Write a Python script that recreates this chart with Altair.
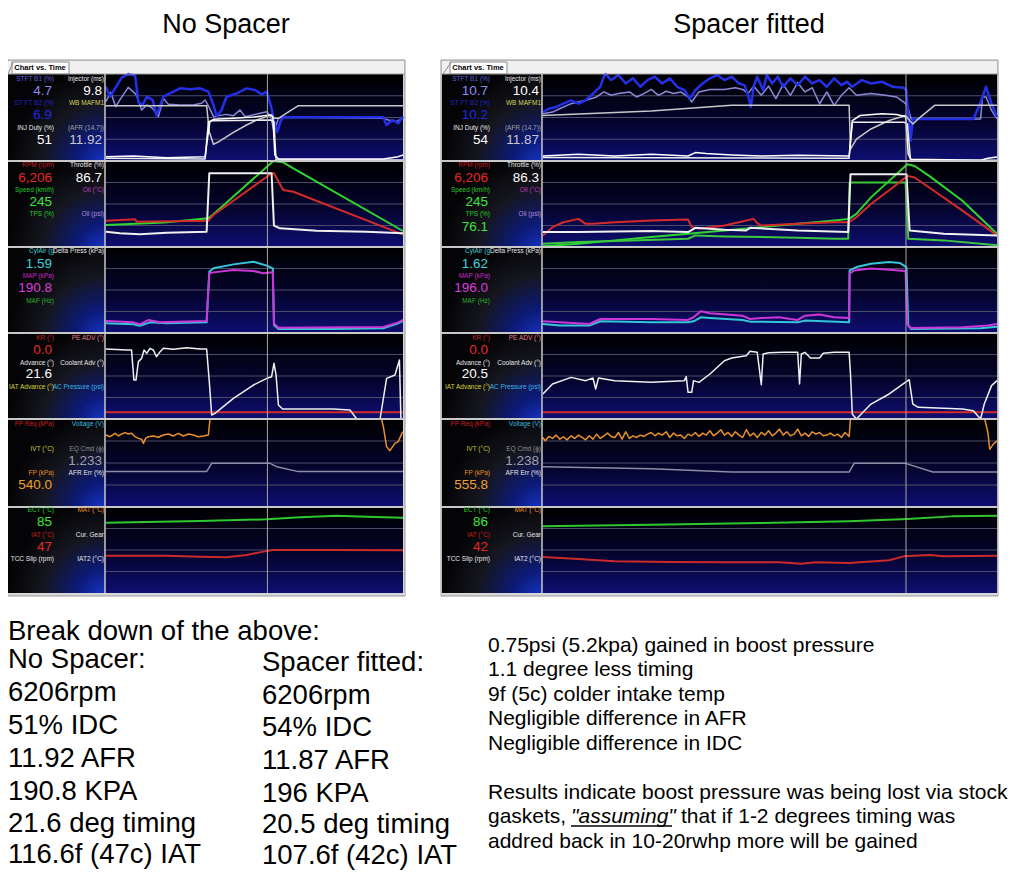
import altair as alt
import pandas as pd

# =====================================================================
# DATA  (time = % of logged window, value = % of the strip's range)
# ---------------------------------------------------------------------
# Left log: "No Spacer"
L_STFT1 = [(0.3,68.2),(1.9,78.9),(3.6,62.5),(5.3,72.0),(7.8,84.7),(10.4,76.6),(12.3,58.6),(14.0,64.4),(16.0,60.5),(17.9,51.0),(19.6,72.0),(21.3,65.1),(25.2,64.4),(29.6,64.4),(32.4,66.3),(33.6,70.1),(35.0,61.3),(36.4,51.0),(40.8,53.6),(43.1,52.1),(45.3,58.6),(47.0,51.0),(52.0,54.8),(54.3,56.7),(55.6,51.0),(56.7,33.7),(58.2,49.0),(59.8,50.2),(93.4,49.0),(95.1,47.1),(97.9,45.2),(100,49.8)]
L_STFT2 = [(0.3,85.4),(1.7,73.9),(3.4,83.5),(5.6,95.8),(7.8,100),(10.1,98.1),(11.2,67.8),(12.6,64.4),(14.0,73.9),(16.0,70.1),(17.3,52.5),(19.6,73.9),(21.8,77.8),(25.2,83.5),(28.5,82.4),(31.9,83.5),(34.7,79.7),(36.4,64.4),(37.5,51.0),(39.1,58.6),(40.8,73.9),(44.2,77.8),(47.5,83.5),(50.3,81.6),(52.6,76.6),(54.3,79.7),(55.9,60.5),(56.7,45.2),(57.8,33.7),(58.9,45.2),(59.8,50.2),(93.4,50.2),(94.5,41.4),(96.5,47.1),(98.4,43.3),(100,51.0)]
L_AFR = [(0.3,63.6),(34.1,63.6),(35.0,33.7),(36.4,19.2),(38.6,23.0),(43.1,33.0),(47.5,41.4),(50.9,47.1),(54.3,51.0),(55.9,52.9),(56.7,49.0),(58.2,49.0),(62.1,57.5),(64.9,63.6),(100,63.6)]
L_IDC = [(0.3,5.0),(9.5,5.7),(20.7,3.8),(33.6,5.0),(34.4,26.1),(35.2,45.2),(36.4,47.9),(43.1,49.0),(49.8,50.6),(55.4,52.9),(56.3,51.0),(57.0,6.9),(58.2,2.3),(93.4,2.3),(98.4,5.0),(100,6.9)]
L_INJ = [(0.3,3.1),(33.6,2.3),(34.7,45.2),(36.4,46.4),(55.4,47.1),(56.7,45.2),(57.4,1.1),(100,1.1)]
L_SPEED = [(0.3,25.6),(20.0,28.5),(34.7,33.3),(36.4,38.0),(56.5,100),(59.8,98.4),(63.2,91.5),(100,18.6)]
L_RPM = [(0.3,30.6),(10.1,32.2),(10.6,29.5),(34.7,30.6),(36.4,37.2),(55.9,85.7),(56.7,85.7),(59.8,66.3),(63.2,64.3),(99.0,15.9),(100,14.7)]
L_THROTTLE = [(0.3,17.8),(5.0,15.9),(11.7,14.7),(20.7,16.7),(34.1,17.8),(35.0,85.7),(55.9,85.7),(56.7,24.8),(58.7,21.7),(71.0,19.0),(87.8,17.8),(100,15.9)]
L_CYLAIR = [(0.3,11.2),(9.5,10.1),(11.7,8.5),(15.1,12.4),(20.7,11.2),(34.1,12.4),(35.0,71.3),(36.4,75.2),(43.1,79.8),(49.8,82.9),(54.3,78.3),(56.3,75.2),(56.7,9.3),(58.2,4.7),(76.6,4.7),(93.4,5.4),(98.4,11.2),(100,14.0)]
L_MAP = [(0.3,14.0),(9.5,12.4),(11.7,10.1),(14.5,15.1),(18.5,12.4),(34.1,14.0),(35.0,69.4),(36.4,70.5),(43.1,73.3),(49.8,72.1),(53.1,69.4),(56.3,70.5),(56.7,11.2),(58.2,6.2),(93.4,7.0),(98.4,12.4),(100,15.1)]
L_ADV_A = [(0.3,81.4),(7.3,80.2),(8.9,80.2),(9.7,45.3),(10.4,45.3),(11.2,66.7),(12.3,70.5),(13.1,80.2),(14.0,76.4),(15.1,82.2),(16.2,80.2),(17.3,72.5),(18.5,78.3),(19.6,82.2),(22.9,81.0),(27.4,82.9),(31.9,81.4),(34.1,81.4),(35.0,43.4),(35.8,4.7),(36.9,6.6),(43.1,24.0),(49.8,39.5),(54.3,47.3),(55.9,49.2),(56.7,64.7),(57.4,51.2),(58.2,16.3),(59.6,11.6),(76.6,11.6),(82.2,10.5),(84.5,0)]
L_ADV_B = [(92.3,0),(94.5,47.3),(97.3,51.2),(98.8,68.6),(99.3,0)]
L_KR = [(0,7.8),(100,7.8)]
L_FP_A = [(0.3,81.8),(1.7,79.9),(3.4,83.7),(4.5,80.7),(5.6,83.0),(6.7,84.5),(7.8,83.0),(8.9,83.7),(10.1,79.9),(11.2,78.0),(12.3,76.9),(12.9,72.3),(13.6,78.0),(14.5,79.9),(16.2,80.7),(17.9,79.2),(19.6,81.8),(21.3,83.0),(22.9,80.7),(24.6,83.7),(26.3,80.7),(28.0,83.0),(29.6,81.8),(31.3,79.9),(33.0,80.7),(34.7,81.8),(35.2,98.9),(35.5,100)]
L_FP_B = [(92.8,100),(93.4,91.3),(94.5,68.6),(95.6,64.0),(97.3,72.3),(98.4,74.2),(99.6,83.7),(100,85.6)]
L_EQ = [(0.3,40.2),(34.1,40.2),(35.8,49.6),(55.4,49.6),(57.6,45.8),(64.9,40.2),(100,40.2)]
L_ECT = [(0.3,81.8),(31.9,83.7),(54.3,85.7),(65.4,88.0),(77.7,89.9),(87.8,88.8),(100,87.6)]
L_IAT = [(0.3,43.4),(20.7,43.4),(31.9,42.2),(40.8,41.5),(47.5,44.2),(53.1,48.1),(56.5,50.0),(76.6,50.0),(100,49.6)]

# Right log: "Spacer fitted"
R_STFT1 = [(0.2,54.3),(2.3,56.2),(3.9,60.1),(6.4,65.9),(9.6,69.8),(12.0,73.6),(13.6,79.5),(15.2,75.6),(16.8,77.5),(19.2,79.4),(20.8,73.6),(22.4,77.5),(24.0,82.3),(25.6,75.5),(27.3,80.2),(28.9,77.5),(30.5,79.4),(32.1,73.6),(32.9,67.8),(34.5,79.4),(36.9,82.3),(40.1,82.3),(42.5,84.2),(44.1,82.3),(45.3,77.5),(46.5,86.1),(48.2,75.5),(49.8,86.1),(51.4,71.6),(53.0,88.1),(54.6,75.5),(56.2,90.0),(57.8,79.4),(59.4,84.2),(61.0,65.8),(62.6,79.4),(64.2,63.9),(65.8,75.5),(67.5,84.2),(69.1,75.5),(72.3,77.5),(75.5,75.5),(77.9,73.6),(79.5,67.8),(80.3,64.0),(81.1,48.4),(82.7,48.4),(96.4,48.4),(96.8,73.6),(97.6,73.6),(98.8,58.1),(100,48.4)]
R_STFT2 = [(0.2,56.2),(1.5,60.1),(3.1,62.0),(4.7,65.9),(6.4,69.8),(8.0,65.9),(9.6,69.8),(11.2,77.5),(12.8,85.3),(13.6,96.9),(14.0,100),(15.2,93.0),(16.8,98.8),(18.4,89.1),(20.0,95.0),(21.6,85.3),(23.2,93.0),(24.8,96.9),(26.4,89.1),(28.1,95.0),(29.7,85.3),(31.3,81.4),(32.5,71.7),(33.7,81.4),(35.3,89.1),(36.9,95.0),(38.5,98.8),(40.1,93.0),(41.7,96.9),(43.3,89.1),(44.5,87.2),(45.3,75.6),(45.9,62.0),(46.5,85.3),(47.3,96.9),(48.6,81.4),(49.4,98.8),(50.6,89.1),(51.8,96.9),(53.0,85.3),(54.6,95.0),(56.2,87.2),(57.8,96.9),(59.4,89.1),(61.0,93.0),(62.6,85.3),(64.2,95.0),(65.8,87.2),(67.0,91.1),(68.2,85.3),(70.3,93.0),(72.3,89.1),(74.7,91.1),(77.1,85.3),(79.5,84.1),(80.1,81.4),(80.3,65.9),(81.0,23.3),(81.5,48.4),(82.7,48.4),(94.8,48.4),(96.0,62.0),(97.6,85.3),(98.8,65.9),(100,50.4)]
R_AFR = [(0.2,52.3),(24.0,57.4),(41.7,64.0),(67.5,64.0),(67.8,13.6),(69.1,25.2),(72.3,36.8),(76.3,46.5),(79.9,52.3),(80.8,46.5),(81.5,42.6),(82.7,48.4),(86.3,64.0),(100,64.0)]
R_IDC = [(0.2,5.8),(8.0,7.8),(16.0,5.8),(24.0,7.8),(32.1,5.8),(33.7,9.7),(36.1,8.5),(41.7,7.0),(48.2,5.8),(56.2,6.6),(67.5,5.8),(68.2,46.5),(69.9,52.3),(74.7,54.3),(77.9,53.5),(79.9,51.2),(80.5,7.8),(81.1,1.9),(96.4,0.8),(98.0,3.1),(100,4.7)]
R_INJ = [(0.2,3.9),(67.5,3.1),(68.2,44.6),(79.5,44.6),(80.3,42.6),(81.0,0.8),(100,0.8)]
R_RPM = [(0.2,13.5),(2.3,23.1),(4.7,28.8),(8.0,32.7),(9.6,26.9),(11.2,26.9),(16.0,28.8),(24.0,30.8),(32.1,31.9),(32.9,23.1),(34.5,21.2),(40.1,25.0),(43.3,28.8),(46.5,32.7),(47.3,27.7),(48.2,25.0),(56.2,26.9),(64.2,28.8),(67.5,28.8),(69.1,34.6),(72.3,50.0),(77.1,69.2),(80.3,82.7),(81.9,80.8),(85.1,69.2),(92.4,42.3),(100,13.5)]
R_SPEED = [(0.2,0.8),(8.0,3.8),(16.0,7.7),(24.0,11.5),(32.1,15.4),(40.1,19.2),(48.2,23.1),(56.2,26.9),(64.2,30.8),(67.5,32.7),(69.1,38.5),(72.3,57.7),(76.3,76.9),(80.3,96.2),(81.9,94.2),(85.1,82.7),(92.4,53.8),(100,15.4)]
R_TPS = [(0.2,3.8),(8.0,5.8),(16.0,6.9),(32.1,9.6),(33.7,13.5),(40.1,12.3),(56.2,10.8),(64.2,9.6),(67.3,9.6),(67.6,75.0),(79.9,75.0),(80.5,9.6),(88.3,7.7),(100,1.9)]
R_THROTTLE = [(0.2,17.3),(8.0,17.3),(24.0,18.5),(32.1,17.3),(33.7,22.3),(40.1,20.0),(44.9,19.2),(45.7,22.3),(56.2,19.2),(67.3,17.3),(67.8,84.6),(80.1,84.6),(80.8,19.2),(88.3,15.4),(100,13.5)]
R_MAP = [(0.2,13.6),(3.9,12.5),(10.4,10.5),(12.8,16.3),(24.0,16.3),(32.1,15.2),(33.3,18.3),(34.9,25.3),(36.9,23.0),(44.1,20.2),(45.7,16.3),(48.2,17.5),(52.2,18.3),(54.6,16.3),(56.2,15.2),(57.8,20.2),(61.0,21.4),(64.2,18.3),(67.5,17.5),(67.6,68.9),(68.6,72.8),(72.3,75.0),(76.3,73.5),(79.9,72.0),(80.3,10.5),(81.1,5.8),(92.4,6.6),(98.0,8.6),(100,10.5)]
R_CYLAIR = [(0.2,10.5),(3.9,8.6),(10.4,8.6),(12.8,13.6),(24.0,12.5),(32.1,12.5),(33.3,13.6),(34.9,18.3),(36.9,17.5),(44.1,15.2),(45.7,13.2),(56.2,12.5),(57.8,14.4),(67.5,12.5),(67.6,72.8),(69.1,76.7),(72.3,80.5),(76.3,82.5),(78.7,81.3),(80.1,76.7),(80.5,8.6),(81.1,4.7),(96.4,5.4),(100,7.4)]
R_ADVANCE = [(0.2,29.1),(2.3,40.7),(6.4,48.4),(9.6,44.6),(11.2,47.7),(11.8,34.9),(12.4,47.7),(16.0,44.6),(24.0,42.6),(31.3,44.6),(31.7,49.2),(32.1,31.0),(32.9,31.0),(33.3,44.6),(34.5,42.6),(36.9,52.3),(40.1,67.8),(41.7,70.9),(44.9,73.6),(45.7,78.7),(47.3,77.5),(48.2,39.9),(48.6,75.6),(49.8,77.1),(53.0,77.5),(56.2,77.5),(56.6,40.7),(57.0,75.6),(57.8,77.5),(59.0,70.9),(61.0,70.9),(61.8,76.4),(64.2,77.5),(67.5,77.5),(67.8,52.3),(68.2,5.8),(69.1,0),(72.3,17.4),(76.3,29.1),(80.7,45.7),(81.5,17.4),(82.7,13.6),(92.4,11.6),(94.8,9.7),(96.4,0),(97.2,17.4),(98.8,38.8),(100,44.6)]
R_KR = [(0,7.8),(100,7.8)]
R_FP_T = [0.2,0.7,1.5,2.3,3.1,3.9,4.7,5.5,6.4,7.2,8.0,8.8,9.6,10.4,11.2,12.0,12.8,13.6,14.4,15.2,16.0,16.8,17.6,18.4,19.2,20.0,20.8,21.6,22.4,23.2,24.0,24.8,25.6,26.4,27.3,28.1,28.9,29.7,30.5,31.3,32.1,32.9,33.7,34.5,35.3,36.1,36.9,37.7,38.5,39.3,40.1,40.9,41.7,42.5,43.3,44.1,44.9,45.7,46.5,47.3,48.2,49.0,49.8,50.6,51.4,52.2,53.0,53.8,54.6,55.4,56.2,57.0,57.8,58.6,59.4,60.2,61.0,61.8,62.6,63.4,64.2,65.0,65.8,66.6,67.5,67.8]
R_FP_V = [79.0,75.2,80.2,77.9,81.7,77.1,79.8,76.3,80.9,77.9,81.7,79.0,76.3,80.9,77.1,82.8,77.9,80.9,84.0,80.2,79.0,84.7,77.1,85.5,77.9,80.9,79.0,81.7,80.2,82.8,84.7,80.9,84.0,81.7,85.5,79.0,84.0,80.9,81.7,77.9,82.8,80.9,84.7,80.2,84.0,81.7,86.6,80.9,84.0,87.8,81.7,84.7,80.2,85.5,81.7,79.0,87.8,80.9,84.0,79.0,84.7,81.7,86.6,80.9,84.0,88.5,81.7,85.5,80.9,82.8,88.5,80.9,84.0,80.2,85.5,82.8,84.7,80.9,81.7,84.0,80.9,82.8,79.0,84.7,80.2,100]
R_FP_B = [(97.3,100),(98.0,84.7),(98.4,65.6),(99.2,71.4),(100,75.2)]
R_EQ = [(0.2,45.8),(24.0,43.5),(41.7,39.7),(67.5,39.7),(68.6,49.6),(79.9,49.6),(85.9,39.7),(100,39.7)]
R_ECT = [(0.2,77.5),(24.0,79.5),(48.2,81.4),(67.5,83.3),(80.3,86.0),(90.0,89.1),(100,89.9)]
R_IAT = [(0.2,41.9),(8.0,39.5),(16.0,36.8),(28.1,36.0),(40.1,35.7),(52.2,35.7),(57.0,34.1),(60.2,35.7),(67.5,34.9),(76.3,38.0),(79.5,42.6),(85.1,44.2),(88.3,42.6),(100,43.4)]

GRID_LEVELS = [25, 50, 75]

# channel labels / readouts
LABEL_TEXTS = ['STFT B1 (%)', 'Injector (ms)', 'ST FT B2 (%)', 'WB MAFM1', 'INJ Duty (%)', '(AFR (14.7))',
               'RPM (rpm)', 'Throttle (%)', 'Speed (km/h)', 'Oil (°C)', 'TPS (%)', 'Oil (psi)',
               'CylAir (g', 'Delta Press (kPa)', 'MAP (kPa)', 'MAF (Hz)',
               'KR (°)', 'PE ADV (°)', 'Advance (°)', 'Coolant Adv (°)', 'IAT Advance (°)', 'AC Pressure (psi)',
               'FP Req (kPa)', 'Voltage (V)', 'IVT (°C)', 'EQ Cmd (ϕ)', 'FP (kPa)', 'AFR Err (%)',
               'ECT (°C)', 'MAT (°C)', 'IAT (°C)', 'Cur. Gear', 'TCC Slip (rpm)', 'IAT2 (°C)']
LABEL_COLOURS = ['#5a5ad2', '#e6e6e6', '#2323c0', '#d2d264', '#e6e6e6', '#a0a0a0',
                 '#c81e1e', '#e6e6e6', '#28c828', '#b43cc8', '#28c828', '#b48cdc',
                 '#3cc8d2', '#e6e6e6', '#c828c8', '#28b428',
                 '#c81e1e', '#e6788c', '#e6e6e6', '#e6e6e6', '#d2d23c', '#3cb4e6',
                 '#c81e1e', '#3cb4dc', '#c8c83c', '#8c8c96', '#e68c28', '#e6e6e6',
                 '#28c828', '#e68c28', '#c81e1e', '#e6e6e6', '#e6e6e6', '#e6e6e6']
VALUES_NO_SPACER = ['4.7', '9.8', '6.9', '51', '11.92', '6,206', '86.7', '245', '', '1.59', '190.8',
                    '0.0', '21.6', '1.233', '540.0', '85', '47']
VALUES_SPACER = ['10.7', '10.4', '10.2', '54', '11.87', '6,206', '86.3', '245', '76.1', '1.62', '196.0',
                 '0.0', '20.5', '1.238', '555.8', '86', '42']
VALUE_COLOURS = ['#8c8cf0', '#ffffff', '#2028e0', '#ffffff', '#c8c8d2', '#e62828', '#ffffff', '#3ce63c',
                 '#3ce63c', '#3cd2dc', '#dc3cdc', '#e62828', '#ffffff', '#a0a0aa', '#f0a032', '#3ce63c', '#e62828']

TITLES = ['No Spacer', 'Spacer fitted']
BREAKDOWN_HEAD = 'Break down of the above:'
NO_SPACER_LINES = ['No Spacer:', '6206rpm', '51% IDC', '11.92 AFR', '190.8 KPA', '21.6 deg timing', '116.6f (47c) IAT']
SPACER_LINES = ['Spacer fitted:', '6206rpm', '54% IDC', '11.87 AFR', '196 KPA', '20.5 deg timing', '107.6f (42c) IAT']
SUMMARY_LINES = ['0.75psi (5.2kpa) gained in boost pressure', '1.1 degree less timing',
                 '9f (5c) colder intake temp', 'Negligible difference in AFR', 'Negligible difference in IDC']
CONCLUSION_1 = 'Results indicate boost pressure was being lost via stock'
CONCLUSION_2 = ['gaskets,', '"assuming"', 'that if 1-2 degrees timing was']
CONCLUSION_3 = 'addred back in 10-20rwhp more will be gained'

# =====================================================================
# STYLE / LAYOUT
STYLE = {
    'STFT1': ('#8a8ad6', 1.5), 'STFT2': ('#2430e8', 2.5), 'AFR': ('#c8c8c8', 1.5),
    'INJ': ('#eeeeee', 1.5), 'IDC': ('#ffffff', 1.5),
    'SPEED': ('#2ed62e', 2), 'TPS': ('#3cc83c', 2), 'RPM': ('#d62a2a', 2), 'THROTTLE': ('#f0f0f0', 2),
    'CYLAIR': ('#34c6d8', 2), 'MAP': ('#cc36d6', 2),
    'ADVANCE': ('#f0f0f0', 1.5), 'KR': ('#d62a2a', 2),
    'FP': ('#e8902a', 1.5), 'EQ': ('#8c8ca6', 1.5),
    'ECT': ('#2ec82e', 2), 'IAT': ('#cc2a2a', 2),
}

PANEL_SERIES = {
    'L': [
        [('STFT1', [L_STFT1]), ('STFT2', [L_STFT2]), ('AFR', [L_AFR]), ('INJ', [L_INJ]), ('IDC', [L_IDC])],
        [('SPEED', [L_SPEED]), ('RPM', [L_RPM]), ('THROTTLE', [L_THROTTLE])],
        [('CYLAIR', [L_CYLAIR]), ('MAP', [L_MAP])],
        [('KR', [L_KR]), ('ADVANCE', [L_ADV_A, L_ADV_B])],
        [('EQ', [L_EQ]), ('FP', [L_FP_A, L_FP_B])],
        [('ECT', [L_ECT]), ('IAT', [L_IAT])],
    ],
    'R': [
        [('STFT1', [R_STFT1]), ('STFT2', [R_STFT2]), ('AFR', [R_AFR]), ('INJ', [R_INJ]), ('IDC', [R_IDC])],
        [('SPEED', [R_SPEED]), ('TPS', [R_TPS]), ('RPM', [R_RPM]), ('THROTTLE', [R_THROTTLE])],
        [('CYLAIR', [R_CYLAIR]), ('MAP', [R_MAP])],
        [('KR', [R_KR]), ('ADVANCE', [R_ADVANCE])],
        [('EQ', [R_EQ]), ('FP', [list(zip(R_FP_T, R_FP_V)), R_FP_B])],
        [('ECT', [R_ECT]), ('IAT', [R_IAT])],
    ],
}

W, H = 1008, 864
OX, OY = 8, 8                      # page margin
STRIP_EDGES = [74, 161, 247, 333, 419, 507, 593]
PANEL_GEOM = {
    'L': {'frame': (3, 405), 'plot': (105, 403), 'cursor': 54.5, 'values': VALUES_NO_SPACER, 'colL': 54},
    'R': {'frame': (441, 998), 'plot': (542, 997), 'cursor': 80.0, 'values': VALUES_SPACER, 'colL': 490},
}
LABEL_SLOTS = [('L', 79), ('R', 79), ('L', 103), ('R', 103), ('L', 128), ('R', 128),
               ('L', 165), ('R', 165), ('L', 190), ('R', 190), ('L', 214), ('R', 214),
               ('L', 251), ('R', 251), ('L', 276), ('L', 301),
               ('L', 338), ('R', 338), ('L', 363), ('R', 363), ('L', 387), ('R', 387),
               ('L', 424), ('R', 424), ('L', 449), ('R', 449), ('L', 473), ('R', 473),
               ('L', 510), ('R', 510), ('L', 535), ('R', 535), ('L', 559), ('R', 559)]
VALUE_SLOTS = [('L', 91), ('R', 91), ('L', 115), ('L', 140), ('R', 140), ('L', 178), ('R', 178),
               ('L', 202), ('L', 227), ('L', 264), ('L', 288), ('L', 350), ('L', 374), ('R', 461),
               ('L', 485), ('L', 522), ('L', 547)]

PLOT_GRAD = {"gradient": "linear", "x1": 0, "y1": 0, "x2": 0, "y2": 1,
             "stops": [{"offset": 0, "color": "#000000"}, {"offset": 0.55, "color": "#04042e"},
                       {"offset": 1, "color": "#0e0e72"}]}
LABEL_GRAD = {"gradient": "radial", "x1": 1, "y1": 1, "r1": 0, "x2": 1, "y2": 1, "r2": 1,
              "stops": [{"offset": 0, "color": "#1838d0"}, {"offset": 0.3, "color": "#0c1a78"},
                        {"offset": 0.65, "color": "#15161e"}, {"offset": 1, "color": "#040406"}]}

FONT = 'Liberation Sans'
ONE = pd.DataFrame({'k': [0]})


def X(x):
    return max(x - OX, 0)


def Y(y):
    return y - OY


def rect_px(x0, x1, y0, y1, **kw):
    return alt.Chart(ONE).mark_rect(**kw).encode(
        x=alt.value(X(x0)), x2=alt.value(X(x1)), y=alt.value(Y(y0)), y2=alt.value(Y(y1)))


def rule_px(x0, y0, x1, y1, **kw):
    return alt.Chart(ONE).mark_rule(**kw).encode(
        x=alt.value(X(x0)), x2=alt.value(X(x1)), y=alt.value(Y(y0)), y2=alt.value(Y(y1)))


def strip_chart(panel, k):
    g = PANEL_GEOM[panel]
    top, bot = STRIP_EDGES[k], STRIP_EDGES[k + 1]
    sx = alt.Scale(domain=[0, 100], range=[X(g['plot'][0]), X(g['plot'][1])], nice=False, zero=False)
    sy = alt.Scale(domain=[0, 100], range=[Y(bot), Y(top)], nice=False, zero=False)
    bg = alt.Chart(ONE).mark_rect(fill=PLOT_GRAD).encode(
        x=alt.XDatum(0, type='quantitative', scale=sx, axis=None), x2=alt.X2Datum(100),
        y=alt.YDatum(0, type='quantitative', scale=sy, axis=None), y2=alt.Y2Datum(100))
    grid = alt.Chart(pd.DataFrame({'g': GRID_LEVELS})).mark_rule(color='#4c4c6a', strokeWidth=1).encode(
        y=alt.Y('g:Q', scale=sy, axis=None),
        x=alt.XDatum(0, type='quantitative', scale=sx, axis=None), x2=alt.X2Datum(100))
    layers = [bg, grid]
    for name, segs in PANEL_SERIES[panel][k]:
        rows = []
        for si, seg in enumerate(segs):
            for i, (t, v) in enumerate(seg):
                rows.append({'t': t, 'v': v, 'seg': si, 'i': i})
        colour, width = STYLE[name]
        layers.append(alt.Chart(pd.DataFrame(rows)).mark_line(
            color=colour, strokeWidth=width, strokeJoin='round').encode(
            x=alt.X('t:Q', scale=sx, axis=None), y=alt.Y('v:Q', scale=sy, axis=None),
            detail='seg:N', order='i:Q'))
    cursor = alt.Chart(ONE).mark_rule(color='#a8a8a8', strokeWidth=1).encode(
        x=alt.XDatum(g['cursor'], type='quantitative', scale=sx, axis=None),
        y=alt.YDatum(0, type='quantitative', scale=sy, axis=None), y2=alt.Y2Datum(100))
    layers.append(cursor)
    return alt.layer(*layers)


def text_layer(rows, align, **kw):
    df = pd.DataFrame(rows, columns=['x', 'y', 'text', 'color', 'size'])
    return alt.Chart(df).mark_text(align=align, baseline='middle', font=FONT, **kw).encode(
        x=alt.X('x:Q', scale=None, axis=None), y=alt.Y('y:Q', scale=None, axis=None),
        text='text:N', color=alt.Color('color:N', scale=None), size=alt.Size('size:Q', scale=None))


layers = []
label_rows, value_rows, tab_rows = [], [], []
for p, g in PANEL_GEOM.items():
    f0, f1 = g['frame']
    p0, p1 = g['plot']
    layers.append(rect_px(f0, f1, 60, 596, fill='#d4d4d4', stroke='#9a9a9a', strokeWidth=1))
    layers.append(rect_px(f0 + 1, f1 - 1, 61, 74, fill='#f0f0f0'))
    layers.append(rect_px(f0 + 9, f0 + 66, 62, 74, fill='#ffffff', stroke='#8a8a8a', strokeWidth=1))
    layers.append(rule_px(f0 + 2, 74, f0 + 10, 62.5, color='#8a8a8a', strokeWidth=1))
    for k in range(6):
        layers.append(rect_px(f0 + 1, p0, STRIP_EDGES[k], STRIP_EDGES[k + 1], fill=LABEL_GRAD))
    for k in range(6):
        layers.append(strip_chart(p, k))
    for e in STRIP_EDGES[1:-1]:
        layers.append(rule_px(f0, e, f1, e, color='#c8c8c8', strokeWidth=2))
    layers.append(rule_px(f0, 74, f1, 74, color='#a0a0a0', strokeWidth=1))
    layers.append(rule_px(f0, 594, f1, 594, color='#d8d8d8', strokeWidth=2))
    layers.append(rule_px(p0, 74, p0, 593, color='#c8c8c8', strokeWidth=1.5))
    for (col, yy), txt, colour in zip(LABEL_SLOTS, LABEL_TEXTS, LABEL_COLOURS):
        xx = g['colL'] if col == 'L' else p0 - 1
        label_rows.append((X(xx), Y(yy), txt, colour, 6.5))
    for (col, yy), txt, colour in zip(VALUE_SLOTS, g['values'], VALUE_COLOURS):
        xx = g['colL'] - 2 if col == 'L' else p0 - 3
        value_rows.append((X(xx), Y(yy), txt, colour, 13.5))
    tab_rows.append((X(f0 + 37), Y(68), 'Chart vs. Time', '#000000', 7.5))

layers.append(text_layer(label_rows, 'right'))
layers.append(text_layer(value_rows, 'right'))
layers.append(text_layer(tab_rows, 'center', fontWeight='bold'))

# headings above the two logs
layers.append(text_layer([(X(226), Y(25), TITLES[0], '#000000', 27),
                          (X(749), Y(25), TITLES[1], '#000000', 27)], 'center'))

# breakdown text
left_rows = [(X(3), Y(632), BREAKDOWN_HEAD, '#000000', 27.5)]
for yy, txt in zip([660, 693, 726, 759, 792, 824, 855], NO_SPACER_LINES):
    left_rows.append((X(3), Y(yy), txt, '#000000', 27.5))
for yy, txt in zip([663, 696, 728, 761, 794, 825, 856], SPACER_LINES):
    left_rows.append((X(262), Y(yy), txt, '#000000', 27.5))
for yy, txt in zip([646, 670, 695, 719, 744], SUMMARY_LINES):
    left_rows.append((X(488), Y(yy), txt, '#000000', 21))
left_rows.append((X(488), Y(793), CONCLUSION_1, '#000000', 21))
left_rows.append((X(488), Y(817), CONCLUSION_2[0], '#000000', 21))
left_rows.append((X(681), Y(817), CONCLUSION_2[2], '#000000', 21))
left_rows.append((X(488), Y(842), CONCLUSION_3, '#000000', 21))
layers.append(text_layer(left_rows, 'left'))
layers.append(text_layer([(X(571), Y(817), CONCLUSION_2[1], '#000000', 21)], 'left', fontStyle='italic'))
layers.append(rule_px(571, 826, 672, 826, color='#000000', strokeWidth=1.5))

chart = alt.layer(*layers).resolve_scale(x='independent', y='independent').properties(
    width=W, height=H, padding={"left": 0, "top": 0, "right": 0, "bottom": 0},
    autosize=alt.AutoSizeParams(type='none'), background='#ffffff'
).configure_view(stroke=None)

chart.save("out.html", embed_options={"renderer": "svg", "actions": False})
